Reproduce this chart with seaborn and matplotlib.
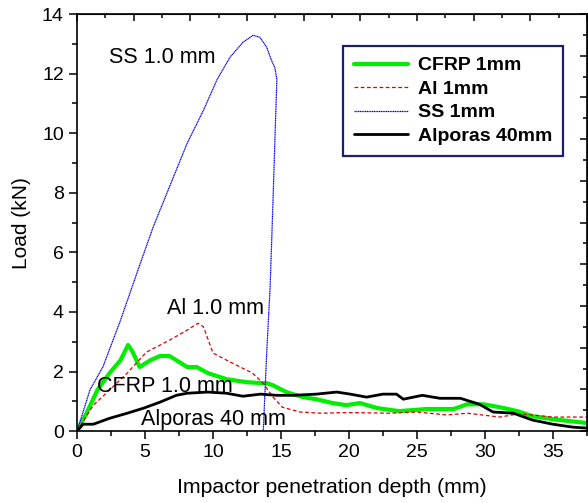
import numpy as np
import pandas as pd
import matplotlib
matplotlib.use("Agg")
import matplotlib.pyplot as plt
import seaborn as sns

# Load vs penetration depth
cfrp_x = [0, 0.7, 1.5, 2.4, 3.2, 3.75, 4.1, 4.6, 5.4, 6.1, 6.8, 7.3, 8.1, 8.8, 9.6,
          11.0, 12.5, 14.0, 14.4, 15.4, 16.6, 17.6, 18.8, 19.8, 20.8, 22.1, 23.7,
          25.7, 27.7, 28.7, 29.9, 31.1, 32.4, 33.5, 35.0, 37.5]
cfrp_y = [0, 0.6, 1.38, 1.95, 2.38, 2.89, 2.65, 2.15, 2.38, 2.52, 2.52, 2.38, 2.15, 2.15, 1.95,
          1.74, 1.64, 1.6, 1.54, 1.31, 1.14, 1.07, 0.94, 0.87, 0.94, 0.77, 0.67,
          0.74, 0.74, 0.9, 0.9, 0.8, 0.67, 0.5, 0.4, 0.27]

al_x = [0, 1.2, 2.4, 3.7, 5.1, 6.8, 8.1, 8.9, 9.3, 10.0, 10.7, 12.0, 12.9, 13.7, 14.4,
        15.1, 16.4, 17.9, 20.0, 23.0, 25.0, 27.2, 28.7, 31.1, 32.4, 33.5, 35.0, 37.5]
al_y = [0, 0.87, 1.38, 1.95, 2.65, 3.05, 3.39, 3.62, 3.5, 2.62, 2.45, 2.15, 1.95, 1.6, 1.15,
        0.8, 0.64, 0.6, 0.62, 0.6, 0.64, 0.54, 0.6, 0.47, 0.57, 0.54, 0.47, 0.47]

ss_x = [0, 0.95, 1.9, 3.2, 4.4, 5.6, 6.8, 8.1, 9.3, 10.3, 11.25, 12.2, 12.95, 13.45,
        13.95, 14.3, 14.55, 14.7, 14.6, 14.4, 14.2, 13.95, 13.7]
ss_y = [0, 1.38, 2.15, 3.72, 5.3, 6.85, 8.2, 9.66, 10.77, 11.8, 12.55, 13.05, 13.29, 13.22,
        12.89, 12.45, 12.2, 11.8, 10.4, 7.5, 4.8, 2.6, 0]

alporas_x = [0, 0.45, 1.2, 2.4, 3.7, 4.9, 6.1, 7.3, 8.1, 9.6, 11.0, 12.2, 13.5, 14.7, 15.9,
             17.6, 19.1, 20.1, 21.3, 22.5, 23.5, 24.0, 25.4, 26.7, 28.2, 29.6, 30.6,
             32.1, 33.5, 35.0, 36.5, 37.5]
alporas_y = [0, 0.23, 0.23, 0.43, 0.6, 0.77, 0.97, 1.2, 1.27, 1.31, 1.27, 1.17, 1.24, 1.2, 1.2,
             1.24, 1.31, 1.24, 1.14, 1.24, 1.24, 1.07, 1.2, 1.1, 1.1, 0.9, 0.64,
             0.6, 0.37, 0.23, 0.13, 0.1]

sns.set_style("ticks")
plt.rcParams['font.family'] = ['Liberation Sans', 'DejaVu Sans']
plt.rcParams['text.color'] = 'black'
plt.rcParams['axes.labelcolor'] = 'black'
plt.rcParams['xtick.color'] = 'black'
plt.rcParams['ytick.color'] = 'black'

fig = plt.figure(figsize=(5.88, 5.03), dpi=100)
ax = fig.add_axes([0.131, 0.143, 0.867, 0.829])

sns.lineplot(x=cfrp_x, y=cfrp_y, ax=ax, sort=False, estimator=None,
             color="#00ee00", linewidth=3.0, label="CFRP 1mm")
sns.lineplot(x=al_x, y=al_y, ax=ax, sort=False, estimator=None,
             color="#e00000", linewidth=0.9, linestyle=(0, (3, 2)), label="Al 1mm")
sns.lineplot(x=ss_x, y=ss_y, ax=ax, sort=False, estimator=None,
             color="#0000ee", linewidth=0.9, linestyle=(0, (1, 0.4)), label="SS 1mm")
sns.lineplot(x=alporas_x, y=alporas_y, ax=ax, sort=False, estimator=None,
             color="black", linewidth=2.0, label="Alporas 40mm")

ax.set_xlim(0, 37.5)
ax.set_ylim(0, 14)
ax.set_xticks(np.arange(0, 36, 5))
ax.set_xticks(np.arange(0, 37.6, 2.5), minor=True)
ax.set_yticks(np.arange(0, 15, 2))
ax.set_yticks(np.arange(0, 15, 1), minor=True)
ax.tick_params(which="major", direction="out", length=6, width=1.1, labelsize=14, colors="black")
ax.tick_params(which="minor", direction="out", length=3.5, width=1.1)

for s in ax.spines.values():
    s.set_visible(True)
    s.set_linewidth(1.2)
    s.set_color("black")

# mirrored axes with their own tick spacing, ticks pointing inward
top = ax.secondary_xaxis("top")
top.set_xticks(np.linspace(0, 37.5, 10))
top.set_xticks(np.linspace(0, 37.5, 19), minor=True)
top.tick_params(which="both", direction="in", labeltop=False, width=1.1)
top.tick_params(which="major", length=5)
top.tick_params(which="minor", length=3)

right = ax.secondary_yaxis("right")
right.set_yticks(np.linspace(0, 14, 11))
right.set_yticks(np.linspace(0, 14, 21), minor=True)
right.tick_params(which="both", direction="in", labelright=False, width=1.1)
right.tick_params(which="major", length=5)
right.tick_params(which="minor", length=3)

ax.set_xlabel("Impactor penetration depth (mm)", fontsize=15.3, labelpad=12)
ax.set_ylabel("Load (kN)", fontsize=15, labelpad=8)

ax.text(6.3, 12.55, "SS 1.0 mm", fontsize=15.5, ha="center", va="center")
ax.text(10.2, 4.13, "Al 1.0 mm", fontsize=15.5, ha="center", va="center")
ax.text(6.43, 1.5, "CFRP 1.0 mm", fontsize=15.5, ha="center", va="center")
ax.text(10.0, 0.4, "Alporas 40 mm", fontsize=15.5, ha="center", va="center")

leg = ax.legend(loc="upper right", bbox_to_anchor=(0.953, 0.923), borderaxespad=0,
                fancybox=False, framealpha=1, handlelength=2.8,
                prop={"weight": "bold", "size": 14}, labelspacing=0.3,
                borderpad=0.55, handletextpad=0.5)
leg.get_frame().set_edgecolor("#1c1c70")
leg.get_frame().set_linewidth(1.6)

plt.savefig("out.png", dpi=100)
